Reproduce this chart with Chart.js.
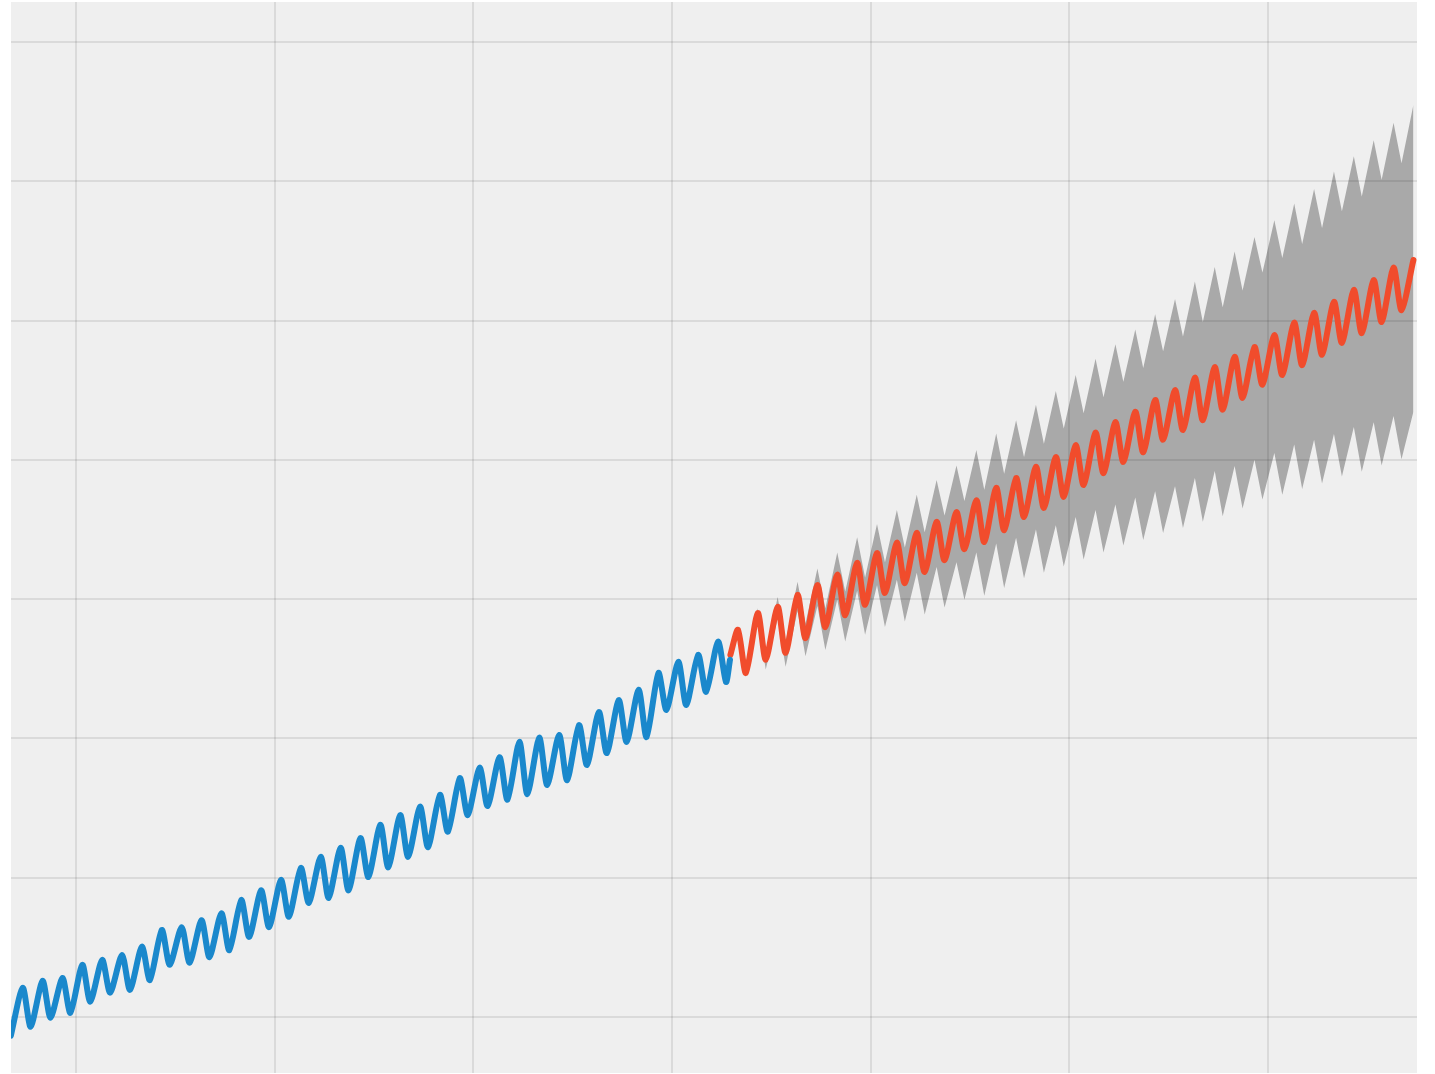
<!DOCTYPE html>
<html><head><meta charset="utf-8">
<script src="https://cdn.jsdelivr.net/npm/chart.js@4/dist/chart.umd.min.js"></script>
<style>html,body{margin:0;padding:0;background:#fff;}canvas{display:block;}</style>
</head><body>
<canvas id="c" width="1435" height="1074"></canvas>
<script>
// ---- data ----
const observedYears = [1957,1958,1959,1960,1961,1962,1963,1964,1965,1966,1967,1968,1969,1970,1971,1972,1973,1974,1975,1976,1977,1978,1979,1980,1981,1982,1983,1984,1985,1986,1987,1988,1989,1990,1991,1992];
const observedPeaks = [324.2,325.2,325.6,327.5,328.2,328.9,330.1,332.5,332.9,333.9,334.9,336.8,338.2,339.7,341.4,343.0,344.3,345.7,347.6,349.0,350.2,351.9,354.3,355.8,357.3,359.5,360.1,360.5,361.9,363.8,365.5,367.0,369.4,371.0,372.0,373.9];
const observedTroughs = [318.6,319.9,320.6,322.2,323.5,323.9,325.3,327.5,327.8,328.6,329.6,331.5,332.9,334.4,336.4,337.1,338.2,340.1,341.5,343.0,344.4,346.6,349.0,350.3,351.2,352.0,353.3,354.0,356.2,357.9,359.5,360.2,364.1,364.8,366.7,368.1];
const observedStart = {x: 1956.72, y: 317.3};
const observedEnd = {x: 1992.92, y: 371.3};

const forecastYears = [1993,1994,1995,1996,1997,1998,1999,2000,2001,2002,2003,2004,2005,2006,2007,2008,2009,2010,2011,2012,2013,2014,2015,2016,2017,2018,2019,2020,2021,2022,2023,2024,2025,2026,2027];
const forecastStart = {x: 1992.94, y: 372.0};
const forecastPeaks = [375.6,378.0,378.9,380.6,382.0,383.5,385.2,386.6,388.1,389.5,391.1,392.5,394.2,396.0,397.4,399.0,400.4,402.1,403.9,405.4,406.9,408.6,410.0,411.8,413.3,414.8,416.2,417.9,419.7,421.1,422.7,424.4,425.8,427.6,428.7];
const forecastTroughs = [369.4,371.3,372.3,374.4,376.0,377.7,379.2,380.9,382.3,383.9,385.6,387.2,388.2,389.9,391.8,393.1,394.7,396.4,398.1,399.7,401.1,402.9,404.3,405.7,407.2,408.9,410.8,412.2,413.6,415.1,416.8,418.2,419.8,421.5];
const upperPeaks = [375.9,378.7,380.3,382.5,384.4,386.7,388.9,390.8,392.8,395.0,397.1,399.2,401.4,403.8,405.7,407.9,409.9,412.2,414.5,416.6,418.7,420.9,423.1,425.6,427.7,429.9,432.0,434.4,436.8,438.9,441.4,443.6,445.9,448.4,451.0];
const upperTroughs = [369.9,372.3,373.9,376.5,378.7,381.1,383.1,385.3,387.4,389.6,392.0,394.1,395.7,398.0,400.4,402.3,404.5,406.7,409.0,411.2,413.2,415.6,417.7,419.8,421.9,424.3,426.9,429.0,431.0,433.3,435.7,437.8,440.2,442.6];
const lowerPeaks = [375.3,376.9,377.2,378.3,379.0,379.9,381.2,382.0,382.8,383.8,384.6,385.3,386.7,388.0,388.8,390.0,390.6,391.8,392.8,393.6,394.6,395.5,396.2,397.4,398.4,399.1,400.0,401.0,402.2,402.9,403.7,404.7,405.4,406.3,406.9];
const lowerTroughs = [368.8,369.9,370.3,371.8,372.7,373.9,374.9,376.0,376.8,377.8,378.8,379.9,380.5,381.6,383.0,383.8,384.7,385.7,386.7,387.7,388.5,389.5,390.2,391.1,391.9,393.0,394.3,395.0,395.8,396.6,397.6,398.3,399.2,400.1];

// grid positions (unlabelled in the picture)
const xGridTicks = [1960,1970,1980,1990,2000,2010,2020];
const yGridTicks = [320,340,360,380,400,420,440,460];

// seasonal timing within a year of the maximum and minimum
const peakPhase = 0.32, troughPhase = 0.72;

function wave(start, years, peaks, troughs, end) {
  const pts = [start];
  years.forEach((yr, i) => {
    pts.push({x: yr + peakPhase, y: peaks[i]});
    if (i < troughs.length) pts.push({x: yr + troughPhase, y: troughs[i]});
  });
  if (end) pts.push(end);
  return pts;
}

const bgPlugin = {
  id: 'plotBg',
  beforeDraw(chart) {
    const {ctx, chartArea: a} = chart;
    ctx.save();
    ctx.fillStyle = '#efefef';
    ctx.fillRect(a.left, a.top, a.right - a.left, a.bottom - a.top);
    ctx.restore();
  }
};

const gridStyle = {color: 'rgba(0,0,0,0.085)', lineWidth: 2, drawTicks: false};

new Chart(document.getElementById('c'), {
  type: 'line',
  data: {
    datasets: [
      {
        data: wave(observedStart, observedYears, observedPeaks, observedTroughs, observedEnd),
        borderColor: '#1a88cc', borderWidth: 6, pointRadius: 0,
        tension: 0.25, borderJoinStyle: 'round', borderCapStyle: 'round',
        fill: false, order: 0, clip: 0
      },
      {
        data: wave(forecastStart, forecastYears, forecastPeaks, forecastTroughs),
        borderColor: '#f14c2c', borderWidth: 6, pointRadius: 0,
        tension: 0.25, borderJoinStyle: 'round', borderCapStyle: 'round',
        fill: false, order: 1, clip: 0
      },
      {
        data: wave(forecastStart, forecastYears, upperPeaks, upperTroughs),
        borderWidth: 0, borderColor: 'rgba(0,0,0,0)', pointRadius: 0, tension: 0,
        backgroundColor: 'rgba(0,0,0,0.29)', fill: '+1', order: 3, clip: 0
      },
      {
        data: wave(forecastStart, forecastYears, lowerPeaks, lowerTroughs),
        borderWidth: 0, borderColor: 'rgba(0,0,0,0)', pointRadius: 0, tension: 0,
        fill: false, order: 4, clip: 0
      }
    ]
  },
  options: {
    responsive: false,
    devicePixelRatio: 1,
    animation: false,
    events: [],
    layout: {padding: {left: 11, right: 18, top: 2, bottom: 1}},
    plugins: {legend: {display: false}, tooltip: {enabled: false}},
    scales: {
      x: {
        type: 'linear', min: 1956.73, max: 2027.5,
        afterBuildTicks: s => { s.ticks = xGridTicks.map(v => ({value: v})); },
        ticks: {display: false},
        grid: gridStyle,
        border: {display: false}
      },
      y: {
        type: 'linear', min: 311.96, max: 465.74,
        afterBuildTicks: s => { s.ticks = yGridTicks.map(v => ({value: v})); },
        ticks: {display: false},
        grid: gridStyle,
        border: {display: false}
      }
    }
  },
  plugins: [bgPlugin]
});
</script>
</body></html>
